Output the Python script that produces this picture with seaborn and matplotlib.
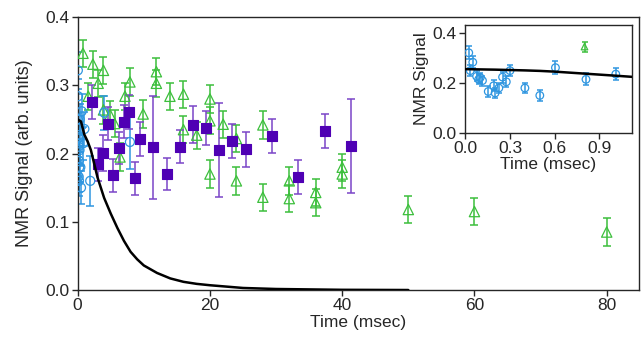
import numpy as np
import matplotlib
matplotlib.use("Agg")
import matplotlib.pyplot as plt
import seaborn as sns
import pandas as pd

# --- data ---
# blue circles (short times, also shown in the inset)
blue_t = [0.023, 0.033, 0.05, 0.076, 0.09, 0.10, 0.115, 0.154, 0.19, 0.20, 0.225,
          0.25, 0.275, 0.30, 0.40, 0.50, 0.605, 0.81, 1.01, 1.9, 4.0, 7.9]
blue_y = [0.322, 0.250, 0.284, 0.227, 0.215, 0.222, 0.210, 0.166, 0.189, 0.160, 0.180,
          0.224, 0.205, 0.250, 0.180, 0.150, 0.262, 0.215, 0.236, 0.160, 0.260, 0.217]
blue_err = [0.027, 0.022, 0.025, 0.02, 0.02, 0.02, 0.02, 0.022, 0.022, 0.022, 0.022,
            0.022, 0.022, 0.022, 0.022, 0.024, 0.025, 0.024, 0.025, 0.037, 0.025, 0.039]

# green triangles
green_t = [0.8, 1.6, 2.3, 3.1, 3.9, 3.9, 4.9, 5.6, 6.4, 7.15, 7.9, 9.9, 11.9, 11.9,
           13.95, 16.0, 16.0, 18.0, 20.0, 20.0, 20.0, 22.0, 24.0, 24.0, 28.0, 28.0,
           32.0, 32.0, 36.0, 36.0, 40.0, 40.0, 50.0, 60.0, 80.0]
green_y = [0.347, 0.284, 0.331, 0.303, 0.322, 0.264, 0.257, 0.244, 0.195, 0.284, 0.305,
           0.258, 0.320, 0.303, 0.284, 0.287, 0.235, 0.227, 0.280, 0.248, 0.170, 0.243,
           0.222, 0.160, 0.242, 0.136, 0.160, 0.134, 0.143, 0.128, 0.180, 0.170, 0.118,
           0.115, 0.085]
green_err = [0.02] * len(green_t)

# purple squares
purple_t = [2.2, 3.0, 3.8, 4.6, 5.4, 6.2, 7.0, 7.8, 8.65, 9.4, 11.4, 13.45, 15.45,
            17.5, 19.4, 21.4, 23.4, 25.4, 29.4, 33.35, 37.4, 41.4]
purple_y = [0.275, 0.184, 0.201, 0.244, 0.168, 0.208, 0.247, 0.261, 0.164, 0.222,
            0.209, 0.170, 0.210, 0.242, 0.238, 0.205, 0.219, 0.206, 0.226, 0.166,
            0.233, 0.211]
purple_err = [0.025, 0.024, 0.026, 0.024, 0.024, 0.024, 0.024, 0.025, 0.024, 0.025,
              0.075, 0.024, 0.024, 0.027, 0.025, 0.069, 0.025, 0.025, 0.025, 0.025,
              0.025, 0.069]

# model curve (main panel)
curve_t = [0, 0.5, 1.0, 1.5, 2, 2.5, 3, 4, 5, 6, 7, 8, 9, 10, 12, 14, 16, 18, 20,
           25, 30, 40, 50]
curve_y = [0.25, 0.247, 0.228, 0.218, 0.205, 0.185, 0.165, 0.135, 0.112, 0.091,
           0.072, 0.056, 0.045, 0.036, 0.025, 0.017, 0.012, 0.009, 0.007, 0.003,
           0.0015, 0.0003, 0.0]

# model curve (inset, first ms)
inset_curve_t = [0, 0.2, 0.4, 0.5, 0.6, 0.8, 1.0, 1.12]
inset_curve_y = [0.256, 0.254, 0.251, 0.249, 0.246, 0.238, 0.230, 0.225]

BLUE = "#2f96e0"
GREEN = "#3cbf3c"
PURPLE_FACE = "#4f00b4"
PURPLE_BAR = "#7a45c8"

sns.set_style("ticks")
plt.rcParams["font.family"] = ["Liberation Sans", "DejaVu Sans"]
plt.rcParams["xtick.direction"] = "out"
plt.rcParams["ytick.direction"] = "out"

blue = pd.DataFrame({"t": blue_t, "y": blue_y, "err": blue_err})
green = pd.DataFrame({"t": green_t, "y": green_y, "err": green_err})
purple = pd.DataFrame({"t": purple_t, "y": purple_y, "err": purple_err})
curve = pd.DataFrame({"t": curve_t, "y": curve_y})
inset_curve = pd.DataFrame({"t": inset_curve_t, "y": inset_curve_y})

fig = plt.figure(figsize=(6.42, 3.39), dpi=100)
ax = fig.add_axes([0.121, 0.1445, 0.874, 0.805])


def draw_points(a, df, color, marker, size, bar_color=None, filled=False, cap=2.9):
    a.errorbar(df["t"], df["y"], yerr=df["err"], fmt="none",
               ecolor=bar_color or color, elinewidth=1.1, capsize=cap, capthick=1.1)
    if filled:
        sns.scatterplot(data=df, x="t", y="y", ax=a, marker=marker, s=size,
                        color=color, edgecolor=color, linewidth=0.8, legend=False, zorder=3)
    else:
        sns.scatterplot(data=df, x="t", y="y", ax=a, marker=marker, s=size,
                        facecolor="none", edgecolor=color, linewidth=0.9,
                        legend=False, zorder=3)


draw_points(ax, green, GREEN, "^", 55)
draw_points(ax, blue, BLUE, "o", 42)
draw_points(ax, purple, PURPLE_FACE, "s", 44, bar_color=PURPLE_BAR, filled=True)
sns.lineplot(data=curve, x="t", y="y", ax=ax, color="black", linewidth=1.8, zorder=4)

ax.set_xlim(0, 84.85)
ax.set_ylim(0, 0.4)
ax.set_xticks([0, 20, 40, 60, 80])
ax.set_yticks([0.0, 0.1, 0.2, 0.3, 0.4])
ax.set_yticklabels(["0.0", "0.1", "0.2", "0.3", "0.4"])
ax.set_xlabel("Time (msec)", fontsize=12.5, labelpad=1)
ax.set_ylabel("NMR Signal (arb. units)", fontsize=13, labelpad=9)
ax.tick_params(labelsize=12.5, length=4, width=1, pad=2)
for s in ax.spines.values():
    s.set_visible(True)
    s.set_linewidth(1.0)

# inset
ins = fig.add_axes([0.7248, 0.6086, 0.2592, 0.3177])
ins.set_facecolor("white")
blue_in = blue[blue["t"] <= 1.1]
green_in = green[green["t"] <= 1.1]
draw_points(ins, blue_in, BLUE, "o", 30, cap=2.0)
draw_points(ins, green_in, GREEN, "^", 22, cap=2.0)
sns.lineplot(data=inset_curve, x="t", y="y", ax=ins, color="black", linewidth=1.8, zorder=4)
ins.set_xlim(0, 1.117)
ins.set_ylim(0, 0.434)
ins.set_xticks([0.0, 0.3, 0.6, 0.9])
ins.set_xticklabels(["0.0", "0.3", "0.6", "0.9"])
ins.set_yticks([0.0, 0.2, 0.4])
ins.set_yticklabels(["0.0", "0.2", "0.4"])
ins.set_xlabel("Time (msec)", fontsize=12.5, labelpad=1)
ins.set_ylabel("NMR Signal", fontsize=12.5, labelpad=3)
ins.tick_params(labelsize=12.5, length=4, width=1, pad=2)
for s in ins.spines.values():
    s.set_visible(True)
    s.set_linewidth(1.0)

fig.savefig("out.png", dpi=100)
